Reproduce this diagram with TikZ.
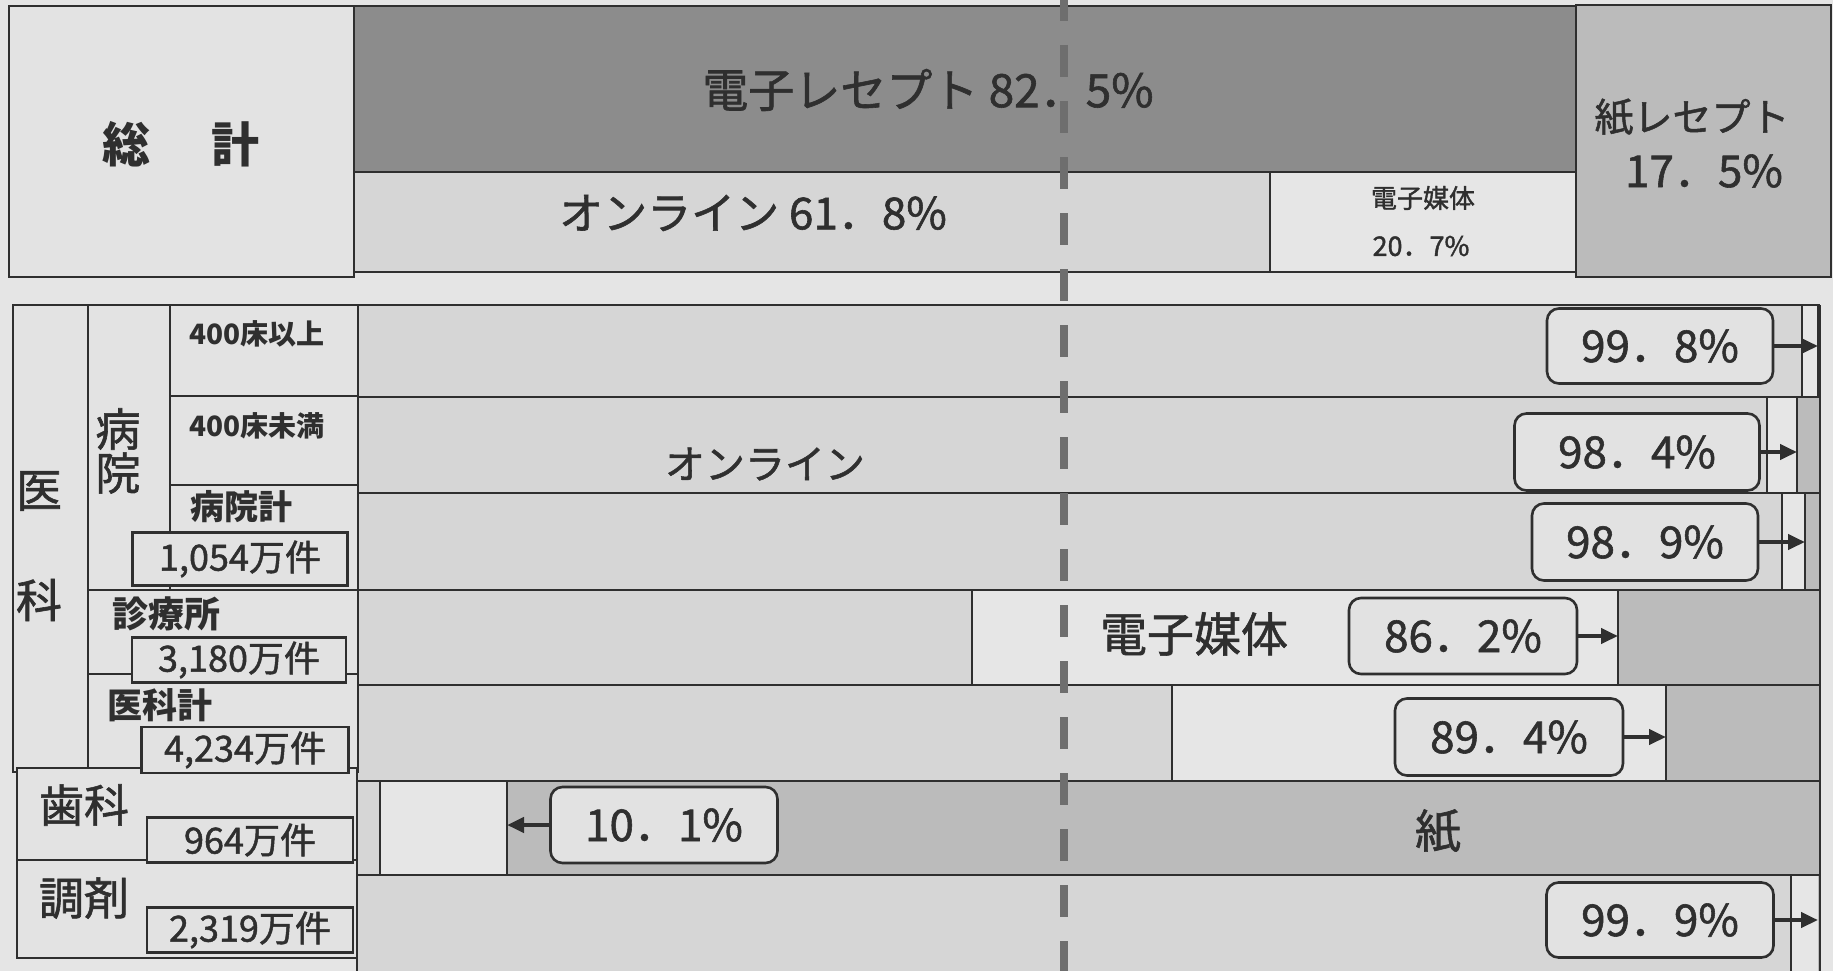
\documentclass[tikz,border=0pt]{standalone}
\usepackage{fontspec}
\setmainfont{Noto Sans CJK JP}
\newfontfamily\rgfont{Noto Sans CJK JP}[FakeBold=1.3]
\usetikzlibrary{arrows.meta}
\definecolor{bg}{HTML}{E5E5E5}
\definecolor{ink}{HTML}{2F2F2F}
\definecolor{darkbar}{HTML}{8C8C8C}
\definecolor{paperc}{HTML}{BBBBBB}
\definecolor{onlinec}{HTML}{D6D6D6}
\definecolor{emedc}{HTML}{E6E6E6}
\definecolor{boxf}{HTML}{E2E2E2}
\definecolor{lblf}{HTML}{E3E3E3}
\definecolor{dashc}{HTML}{6E6E6E}
\newcommand{\myfs}[1]{\rgfont\fontsize{#1}{#1}\selectfont}
\newcommand{\myfsb}[1]{\fontsize{#1}{#1}\selectfont\bfseries}
\tikzset{
  frame/.style={draw=ink, line width=2.6pt},
  divline/.style={draw=ink, line width=2pt},
  txt/.style={inner sep=0pt, text=ink},
  pbox/.style={draw=ink, line width=2.6pt, rounded corners=12pt, fill=boxf, inner sep=0pt, text=ink, font=\myfs{44}, minimum height=76pt},
  cbox/.style={draw=ink, line width=2.6pt, fill=boxf, inner sep=0pt, text=ink, font=\myfs{36}},
  arr/.style={draw=ink, line width=4.5pt, -{Triangle[length=17pt,width=15pt]}}
}
\begin{document}
\begin{tikzpicture}[x=1pt,y=-1pt]
\useasboundingbox (0,0) rectangle (1833,971);
\fill[bg] (0,0) rectangle (1833,971);

% ---------- top section ----------
\draw[frame, fill=lblf] (9,6) rectangle (354,277);
\draw[frame, fill=darkbar] (354,6) rectangle (1576,172);
\draw[frame, fill=onlinec] (354,172) rectangle (1270,272);
\draw[frame, fill=emedc] (1270,172) rectangle (1576,272);
\draw[frame, fill=paperc] (1576,5) rectangle (1831,277);

\node[txt, font=\myfsb{48}] (tsokei) at (181,144) {総\hspace{61pt}計};
\node[txt, font=\myfs{46}] (tdenshi) at (928,90) {電子レセプト 82．5\%};
\node[txt, font=\myfs{44}] (tonl) at (753,213) {オンライン 61．8\%};
\node[txt, font=\myfs{26}] (tem1) at (1423,198) {電子媒体};
\node[txt, font=\myfs{27}] (tem2) at (1421,246) {20．7\%};
\node[txt, font=\myfs{39}] (tkami1) at (1692,117) {紙レセプト};
\node[txt, font=\myfs{44}] (tkami2) at (1704,171) {17．5\%};

% ---------- bars ----------
% row 1 : 400床以上
\fill[onlinec] (357,305) rectangle (1802,397);
\fill[emedc] (1802,305) rectangle (1818,397);
\fill[paperc] (1818,305) rectangle (1820,397);
% row 2 : 400床未満
\fill[onlinec] (357,397) rectangle (1767,493);
\fill[emedc] (1767,397) rectangle (1797,493);
\fill[paperc] (1797,397) rectangle (1820,493);
% row 3 : 病院計
\fill[onlinec] (357,493) rectangle (1782,590);
\fill[emedc] (1782,493) rectangle (1805,590);
\fill[paperc] (1805,493) rectangle (1820,590);
% row 4 : 診療所
\fill[onlinec] (357,590) rectangle (972,685);
\fill[emedc] (972,590) rectangle (1618,685);
\fill[paperc] (1618,590) rectangle (1820,685);
% row 5 : 医科計
\fill[onlinec] (357,685) rectangle (1172,781);
\fill[emedc] (1172,685) rectangle (1666,781);
\fill[paperc] (1666,685) rectangle (1820,781);
% row 6 : 歯科
\fill[onlinec] (357,781) rectangle (380,875);
\fill[emedc] (380,781) rectangle (507,875);
\fill[paperc] (507,781) rectangle (1820,875);
% row 7 : 調剤
\fill[onlinec] (357,875) rectangle (1791,971);
\fill[emedc] (1791,875) rectangle (1818,971);
\fill[paperc] (1818,875) rectangle (1820,971);

% segment dividers
\draw[divline] (1802,305) -- (1802,397);
\draw[divline] (1818,305) -- (1818,397);
\draw[divline] (1767,397) -- (1767,493);
\draw[frame] (1797,397) -- (1797,493);
\draw[divline] (1782,493) -- (1782,590);
\draw[frame] (1805,493) -- (1805,590);
\draw[divline] (972,590) -- (972,685);
\draw[frame] (1618,590) -- (1618,685);
\draw[divline] (1172,685) -- (1172,781);
\draw[frame] (1666,685) -- (1666,781);
\draw[divline] (380,781) -- (380,875);
\draw[frame] (507,781) -- (507,875);
\draw[divline] (1791,875) -- (1791,971);

% row lines
\foreach \yy in {305,397,493,590,685,781,875} {
  \draw[frame] (357,\yy) -- (1820,\yy);
}
\draw[frame] (357,305) -- (357,971);
\draw[frame] (1820,305) -- (1820,971);

% row texts
\node[txt, font=\myfs{40}] (ronl) at (765,464) {オンライン};
\node[txt, font=\myfs{47}] (remed) at (1194,634) {電子媒体};
\node[txt, font=\myfs{46}] (rkami) at (1438,831) {紙};

% ---------- left labels ----------
\draw[frame, fill=lblf] (13,305) rectangle (88,772);
\draw[frame, fill=lblf] (88,305) rectangle (170,590);
\draw[frame, fill=lblf] (170,305) rectangle (358,396);
\draw[frame, fill=lblf] (170,396) rectangle (358,485);
\draw[frame, fill=lblf] (170,485) rectangle (358,590);
\draw[frame, fill=lblf] (88,590) rectangle (358,674);
\draw[frame, fill=lblf] (88,674) rectangle (358,772);
\draw[frame, fill=lblf] (17,768) rectangle (357,860);
\draw[frame, fill=lblf] (17,860) rectangle (357,958);

\node[txt, font=\myfs{46}] (li) at (39,491) {医};
\node[txt, font=\myfs{46}] (lka) at (39,600) {科};
\node[txt, font=\myfs{45}] (lbyo) at (118,429) {病};
\node[txt, font=\myfs{45}] (lin) at (118,473) {院};
\node[txt, font=\myfsb{28}] (l400a) at (257,334) {400床以上};
\node[txt, font=\myfsb{28}] (l400b) at (257,426) {400床未満};
\node[txt, font=\myfsb{34}] (lbk) at (241,507) {病院計};
\node[txt, font=\myfsb{36}] (lsin) at (166,614) {診療所};
\node[txt, font=\myfsb{35}] (likk) at (160,705) {医科計};
\node[txt, font=\myfs{45}] (lsika) at (84,805) {歯科};
\node[txt, font=\myfs{45}] (lchoz) at (84,898) {調剤};

\node[cbox, minimum width=215pt, minimum height=53pt] (c1054) at (240,559) {1,054万件};
\node[cbox, minimum width=214pt, minimum height=45pt] (c3180) at (239,660) {3,180万件};
\node[cbox, minimum width=207pt, minimum height=46pt] (c4234) at (245,750) {4,234万件};
\node[cbox, minimum width=206pt, minimum height=45pt] (c964) at (250,840) {964万件};
\node[cbox, minimum width=206pt, minimum height=45pt] (c2319) at (250,930) {2,319万件};

% ---------- percent boxes and arrows ----------
\coordinate (a1) at (1818,347);
\coordinate (a2) at (1797,452);
\coordinate (a3) at (1805,542);
\coordinate (a4) at (1618,638);
\coordinate (a5) at (1666,738);
\coordinate (a6) at (507,827);
\coordinate (a7) at (1818,920);

\node[pbox, minimum width=226pt, minimum height=75pt] (p998) at (1660,346) {99．8\%};
\node[pbox, minimum width=245pt, minimum height=77pt] (p984) at (1637,452) {98．4\%};
\node[pbox, minimum width=226pt, minimum height=77pt] (p989) at (1645,542) {98．9\%};
\node[pbox, minimum width=228pt, minimum height=76pt] (p862) at (1463,636) {86．2\%};
\node[pbox, minimum width=228pt, minimum height=77pt] (p894) at (1509,737) {89．4\%};
\node[pbox, minimum width=227pt, minimum height=76pt] (p101) at (664,825) {10．1\%};
\node[pbox, minimum width=227pt, minimum height=75pt] (p999) at (1660,920) {99．9\%};

\draw[arr] (p998.east) -- (p998.east -| a1);
\draw[arr] (p984.east) -- (p984.east -| a2);
\draw[arr] (p989.east) -- (p989.east -| a3);
\draw[arr] (p862.east) -- (p862.east -| a4);
\draw[arr] (p894.east) -- (p894.east -| a5);
\draw[arr] (p101.west) -- (p101.west -| a6);
\draw[arr] (p999.east) -- (p999.east -| a7);

% ---------- dashed reference line ----------
\coordinate (dtop) at (1064,0);
\coordinate (dbot) at (1064,971);
\draw[dashc, line width=8pt, dash pattern=on 32pt off 24pt, dash phase=11pt] (dtop) -- (dbot);
\end{tikzpicture}
\end{document}
